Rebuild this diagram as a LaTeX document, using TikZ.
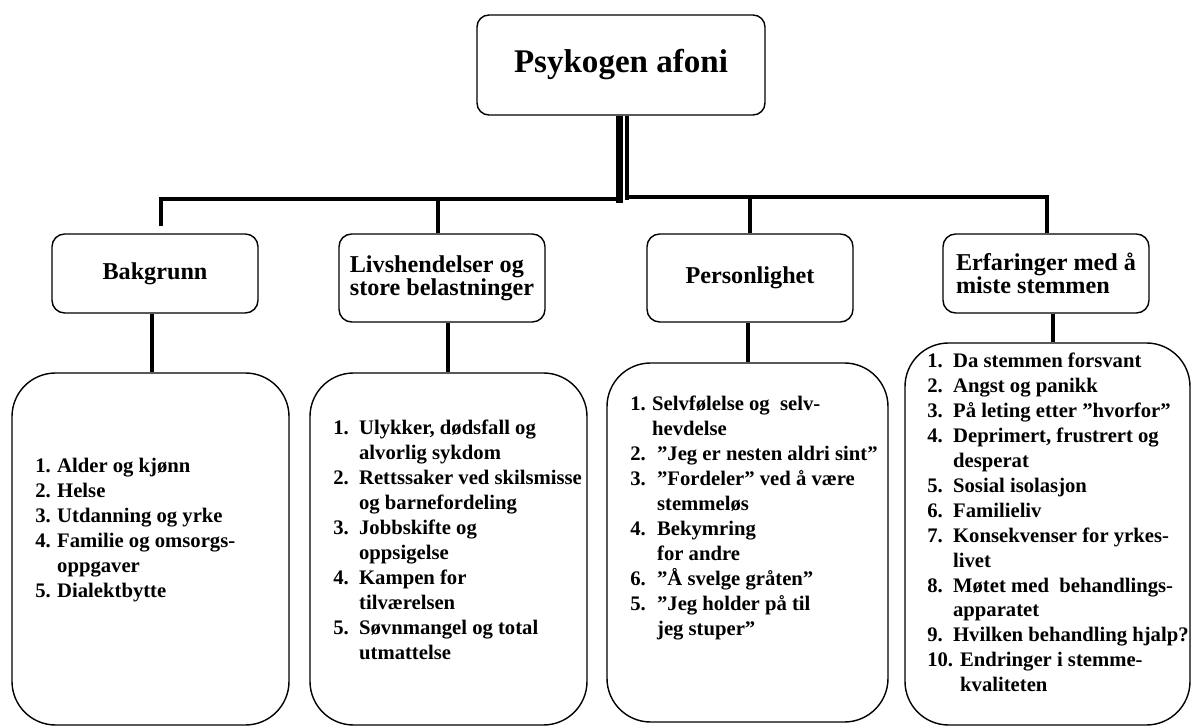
\documentclass[tikz,border=0pt]{standalone}
\usepackage{fontspec}
\setmainfont{Liberation Serif}
\newcommand{\px}{0.025cm}
\newcommand{\listfont}{\fontsize{14.7}{17.7}\selectfont\bfseries}
\newcommand{\headfont}{\fontsize{17.2}{16.3}\selectfont\bfseries}
\newcommand{\numlist}[2]{\begin{tabular}[t]{@{}p{#1}@{}l@{}}#2\end{tabular}}
\newcommand{\link}[3]{\draw[conn] ([xshift=#3]#1.south) -- ([xshift=#3]#1.south |- #2.north);}
\tikzset{
  topbox/.style={draw, line width=1pt, rounded corners=8.5pt, minimum width=288*\px, minimum height=100*\px, inner sep=0pt, font=\fontsize{23.5}{28}\selectfont\bfseries},
  headbox/.style={draw, line width=1pt, rounded corners=9pt, minimum width=206*\px, inner sep=0pt, font=\headfont, align=left},
  listbox/.style={draw, line width=1pt, rounded corners=31pt, inner sep=0pt},
  listtext/.style={anchor=base west, inner sep=0pt, font=\listfont},
  conn/.style={line width=2.8pt}
}
\begin{document}
\begin{tikzpicture}[x=\px, y=-\px]
\useasboundingbox (0,0) rectangle (1192,727);
\node[topbox] (top) at (621,65) {Psykogen afoni};
\node[headbox, minimum height=79*\px] (bak) at (155,273.5) {Bakgrunn};
\node[headbox, minimum height=88*\px] (liv) at (442,278) {Livshendelser og\\store belastninger};
\node[headbox, minimum height=88*\px] (per) at (750,278) {Personlighet};
\node[headbox, minimum height=79*\px] (erf) at (1046,273.5) {Erfaringer med å\\miste stemmen};
\node[listbox, minimum width=277*\px, minimum height=352*\px] (lbak) at (150.5,549) {};
\node[listbox, minimum width=277*\px, minimum height=352*\px] (lliv) at (448.5,549) {};
\node[listbox, minimum width=281*\px, minimum height=359*\px] (lper) at (747.5,542.5) {};
\node[listbox, minimum width=285*\px, minimum height=382*\px] (lerf) at (1047.5,534) {};
\node[listtext] (tbak) at (35,473) {\numlist{15.6pt}{
  1. & Alder og kjønn\\
  2. & Helse\\
  3. & Utdanning og yrke\\
  4. & Familie og omsorgs-\\
     & oppgaver\\
  5. & Dialektbytte}};
\node[listtext] (tliv) at (333,435) {\numlist{18.4pt}{
  1. & Ulykker, dødsfall og\\
     & alvorlig sykdom\\
  2. & Rettssaker ved skilsmisse\\
     & og barnefordeling\\
  3. & Jobbskifte og\\
     & oppsigelse\\
  4. & Kampen for\\
     & tilværelsen\\
  5. & Søvnmangel og total\\
     & utmattelse}};
\node[listtext] (tper) at (630,411) {\numlist{19.1pt}{
  \multicolumn{2}{@{}l@{}}{1.\hspace{4.5pt}Selvfølelse og\ \ selv-}\\
     & \hspace{-3.5pt}hevdelse\\
  2. & ”Jeg er nesten aldri sint”\\
  3. & ”Fordeler” ved å være\\
     & stemmeløs\\
  4. & Bekymring\\
     & for andre\\
  6. & ”Å svelge gråten”\\
  5. & ”Jeg holder på til\\
     & jeg stuper”}};
\node[listtext] (terf) at (927,368) {\numlist{18.4pt}{
  1. & Da stemmen forsvant\\
  2. & Angst og panikk\\
  3. & På leting etter ”hvorfor”\\
  4. & Deprimert, frustrert og\\
     & desperat\\
  5. & Sosial isolasjon\\
  6. & Familieliv\\
  7. & Konsekvenser for yrkes-\\
     & livet\\
  8. & Møtet med\ \ behandlings-\\
     & apparatet\\
  9. & Hvilken behandling hjalp?\\
  \multicolumn{2}{@{}l@{}}{10. Endringer i stemme-}\\
     & \hspace{5pt}kvaliteten}};
\coordinate (hubl) at (619,199);
\coordinate (hubr) at (627,197);
\coordinate (gap) at (161,226);
\draw[line width=5.4pt] ([xshift=-1.1pt]top.south) -- ++(0,87);
\draw[line width=2.8pt] ([xshift=4.3pt]top.south) -- ++(0,84);
\draw[conn] (gap) |- (hubl);
\draw[conn] (hubr) -| ([xshift=0.7pt]erf.north);
\draw[conn] ([xshift=-2.8pt]liv.north) -- ([xshift=-2.8pt]liv.north |- hubl);
\draw[conn] (per.north) -- (per.north |- hubr);
\link{bak}{lbak}{-2.1pt}
\link{liv}{lliv}{4.3pt}
\link{per}{lper}{-1.4pt}
\link{erf}{lerf}{5pt}
\end{tikzpicture}
\end{document}
